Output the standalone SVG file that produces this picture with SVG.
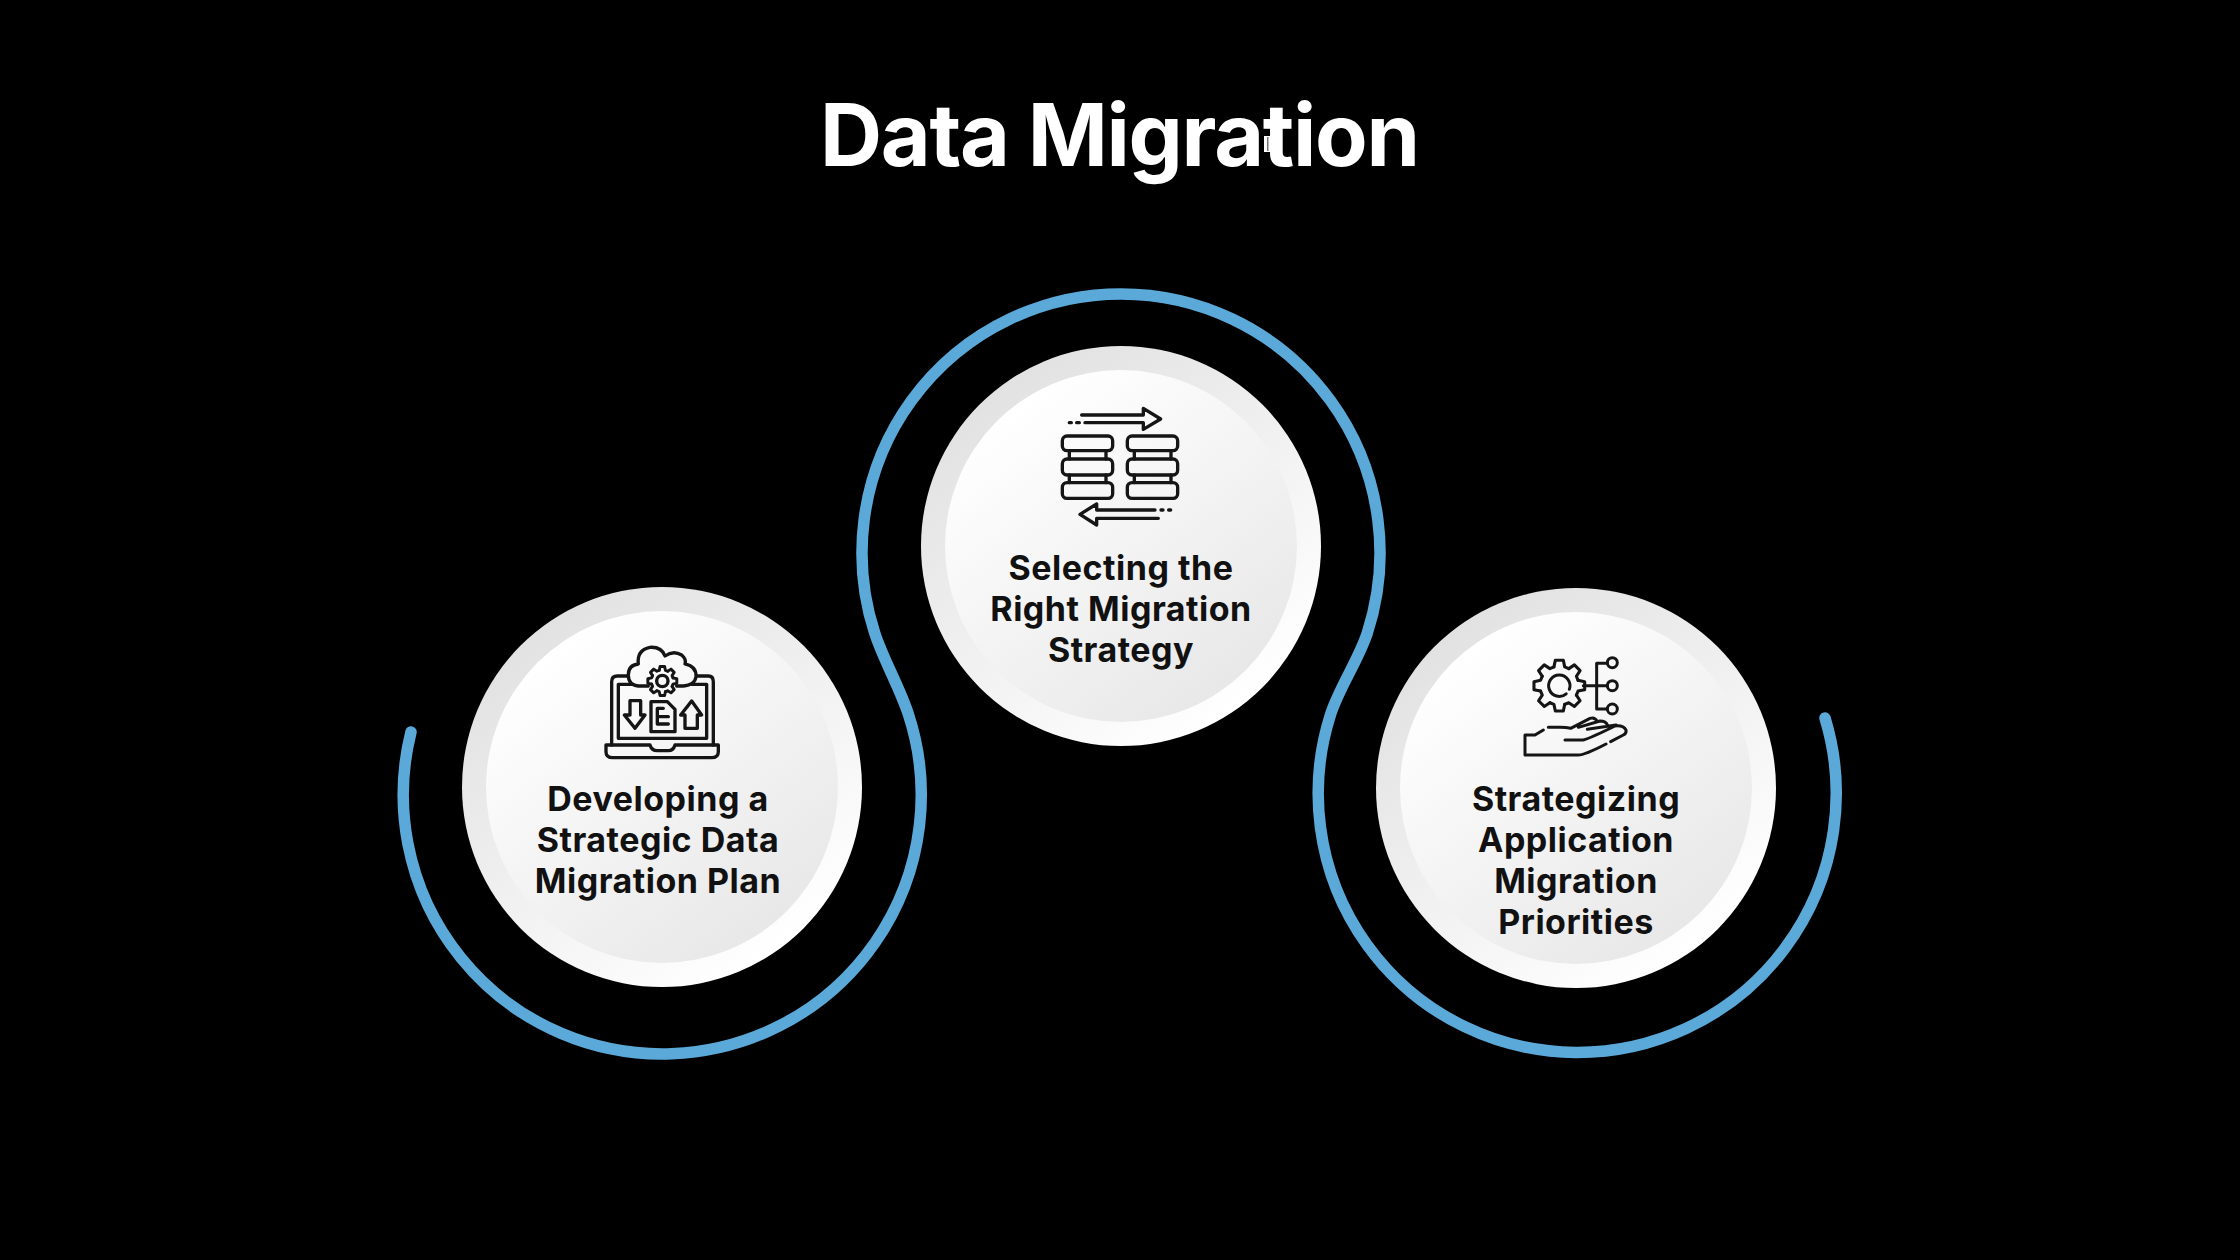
<svg xmlns="http://www.w3.org/2000/svg" xmlns:xlink="http://www.w3.org/1999/xlink" width="2240" height="1260" viewBox="0 0 2240 1260">
<style>
text{font-family:"Inter","Liberation Sans",sans-serif;font-weight:700;text-anchor:middle}
.title{font-size:86px;fill:#fff}
.label{font-size:34px;fill:#111;letter-spacing:.5px}
.ic{fill:none;stroke:#151515;stroke-width:10;stroke-linecap:round;stroke-linejoin:round}
.ic3{fill:none;stroke:#151515;stroke-width:9;stroke-linecap:round;stroke-linejoin:round}
.outer{fill:url(#ringGrad)}
.inner{fill:url(#discGrad)}
</style>
<defs>
<linearGradient id="ringGrad" x1="0.2" y1="0.1" x2="0.8" y2="0.9"><stop offset="0" stop-color="#e2e2e2"/><stop offset="1" stop-color="#ffffff"/></linearGradient>
<linearGradient id="discGrad" x1="0.2" y1="0.1" x2="0.8" y2="0.9"><stop offset="0" stop-color="#ffffff"/><stop offset="1" stop-color="#e8e8e8"/></linearGradient>
<path id="tooth" d="M-.21-.73L-.156-.988H.156L.21-.73L.369-.665"/>
<g id="gear">
<use xlink:href="#tooth"/><use xlink:href="#tooth" transform="rotate(45)"/><use xlink:href="#tooth" transform="rotate(90)"/><use xlink:href="#tooth" transform="rotate(135)"/><use xlink:href="#tooth" transform="rotate(180)"/><use xlink:href="#tooth" transform="rotate(225)"/><use xlink:href="#tooth" transform="rotate(270)"/><use xlink:href="#tooth" transform="rotate(315)"/>
</g>
</defs>
<rect width="2240" height="1260" fill="#000"/>
<text class="title" x="1120" y="166" textLength="600" lengthAdjust="spacing">Data Migration</text>
<g id="cursor"><rect x="1264" y="136" width="7" height="16" fill="#fff"/><rect x="1267" y="137" width="1.5" height="14" fill="#777"/></g>

<g id="connectors">
<path d="M411 732A259 259 0 1 0 908.3 714C899.6 687.4 883.4 659.6 874.7 633A259 259 0 1 1 1367.3 633C1358.6 659.6 1339.4 687.4 1330.7 714A259 259 0 1 0 1825 718" fill="none" stroke="#5aa9d9" stroke-width="11.5" stroke-linecap="round"/>
</g>

<g id="node-developing">
<circle class="outer" cx="662" cy="787" r="200"/>
<circle class="inner" cx="662" cy="787" r="176"/>
<g class="ic" transform="translate(580 620) scale(.3333)">
<path d="M78 375H210Q215 392 232 392H265Q280 392 285 375H415V395Q415 413 395 413H98Q78 413 78 395Z"/>
<path d="M95 375V185Q95 168 112 168H145M350 168H385Q400 168 400 185V375"/>
<path d="M115 193V355H380V193M115 193H160M335 193H380"/>
<path d="M205 198H175Q145 195 145 165Q145 135 175 132Q170 90 210 82Q245 80 255 108Q280 90 305 105Q320 118 315 132Q350 140 348 170Q345 195 310 198H290"/>
<use xlink:href="#gear" transform="translate(247 183) scale(44)" style="stroke-width:.2"/>
<circle cx="247" cy="183" r="17"/>
<path d="M150 242H182V285H195L165 325L133 285H150Z"/>
<path d="M213 245H262L285 268V335H213ZM232 265H250M232 290H265M232 312H265M232 265V312"/>
<path d="M335 243L365 285H352V325H315V285H302Z"/>
</g>
<text class="label" x="658" y="811">Developing a</text>
<text class="label" x="658" y="852">Strategic Data</text>
<text class="label" x="658" y="893">Migration Plan</text>
</g>

<g id="node-selecting">
<circle class="outer" cx="1121" cy="546" r="200"/>
<circle class="inner" cx="1121" cy="546" r="176"/>
<g class="ic" transform="translate(1030 390) scale(.3333)">
<path d="M155 75H340V55L392 87L340 118V98H165M118 98H124M140 98H148"/>
<path d="M385 385H200V405L150 373L200 342V360H375M393 360H399M416 360H422"/>
<rect x="97" y="138" width="151" height="44" rx="14"/><rect x="97" y="207" width="151" height="48" rx="14"/><rect x="97" y="278" width="151" height="47" rx="14"/>
<path d="M118 182V207M228 182V207M118 255V278M228 255V278"/>
<rect x="292" y="138" width="151" height="44" rx="14"/><rect x="292" y="207" width="151" height="48" rx="14"/><rect x="292" y="278" width="151" height="47" rx="14"/>
<path d="M313 182V207M423 182V207M313 255V278M423 255V278"/>
</g>
<text class="label" x="1121" y="580">Selecting the</text>
<text class="label" x="1121" y="621">Right Migration</text>
<text class="label" x="1121" y="662">Strategy</text>
</g>

<g id="node-strategizing">
<circle class="outer" cx="1576" cy="788" r="200"/>
<circle class="inner" cx="1576" cy="788" r="176"/>
<g class="ic3" transform="translate(1500 640) scale(.3333)">
<use xlink:href="#gear" transform="translate(178 137) scale(77)" style="stroke-width:.12"/>
<path d="M198.6 161.5A32 32 0 1 1 208 148"/>
<path d="M250 137H322M290 70V207M290 70H322M290 207H322"/>
<circle cx="337" cy="68" r="15"/><circle cx="337" cy="137" r="15"/><circle cx="337" cy="207" r="15"/>
<path d="M130 270L105 285H75V345H235Q255 345 318 312M145 262H180Q200 262 212 265L270 235Q285 230 292 245M235 262L300 243Q318 243 322 255M195 300H250Q270 295 345 258Q370 255 378 270Q380 280 370 285L332 305M262 268L348 255"/>
</g>
<text class="label" x="1576" y="811">Strategizing</text>
<text class="label" x="1576" y="852">Application</text>
<text class="label" x="1576" y="893">Migration</text>
<text class="label" x="1576" y="934">Priorities</text>
</g>
</svg>
